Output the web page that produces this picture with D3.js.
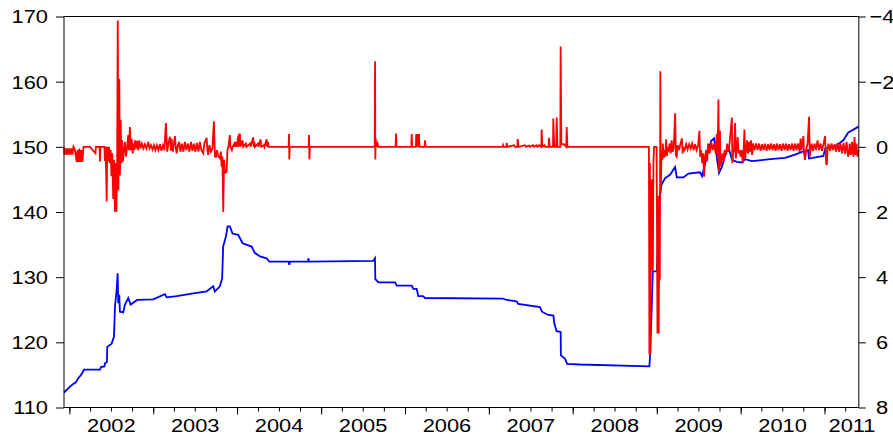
<!DOCTYPE html>
<html>
<head>
<meta charset="utf-8">
<script src="https://cdn.jsdelivr.net/npm/d3@7"></script>
<style>
	body { margin: 0; background: #fff; }
	svg text { font-family: "Liberation Sans", Arial, sans-serif; font-size: 18.5px; fill: #000; }
</style>
</head>
<body>
<svg id="chart"></svg>
<script>
// x labels, left axis (level) and right axis (inverted change) ticks
const years = [2002, 2003, 2004, 2005, 2006, 2007, 2008, 2009, 2010, 2011]
const leftTicks = [110, 120, 130, 140, 150, 160, 170]
const rightTicks = [-4, -2, 0, 2, 4, 6, 8]
const xRange = [2001.936, 2011.409]

// blue series, left axis: [decimal year, level]
const blueSeries = [
	[2001.936, 112.3], [2002.007, 113.2], [2002.046, 113.6], [2002.080, 113.9], [2002.106, 114.5],
	[2002.140, 115.0], [2002.174, 115.8], [2002.365, 115.8], [2002.377, 116.2], [2002.418, 116.3],
	[2002.424, 116.8], [2002.448, 117.0], [2002.452, 119.3], [2002.504, 119.8], [2002.532, 120.9],
	[2002.544, 125.5], [2002.564, 128.1], [2002.576, 130.6], [2002.583, 126.0], [2002.595, 127.3],
	[2002.603, 124.7], [2002.642, 124.6], [2002.663, 125.8], [2002.702, 126.8], [2002.731, 125.8],
	[2002.809, 126.5], [2003.000, 126.6], [2003.139, 127.4], [2003.160, 126.9], [2003.279, 127.1],
	[2003.477, 127.5], [2003.636, 127.8], [2003.715, 128.6], [2003.735, 127.8], [2003.795, 128.6],
	[2003.822, 129.8], [2003.834, 134.7], [2003.866, 136.2], [2003.887, 137.8], [2003.914, 137.8],
	[2003.946, 136.7], [2004.013, 136.5], [2004.066, 135.2], [2004.173, 134.7], [2004.212, 133.7],
	[2004.272, 133.2], [2004.352, 132.9], [2004.383, 132.4], [2004.611, 132.4], [2004.621, 131.9],
	[2004.629, 132.4], [2004.844, 132.4], [2004.847, 132.9], [2004.856, 132.4], [2005.622, 132.5],
	[2005.642, 132.9], [2005.646, 129.7], [2005.682, 129.2], [2005.881, 129.2], [2005.901, 128.7],
	[2006.080, 128.7], [2006.099, 128.2], [2006.139, 128.2], [2006.158, 127.1], [2006.214, 127.1],
	[2006.238, 126.8], [2007.172, 126.7], [2007.212, 126.5], [2007.331, 126.3], [2007.350, 125.9],
	[2007.609, 125.4], [2007.633, 124.7], [2007.708, 124.2], [2007.770, 124.1], [2007.779, 123.0],
	[2007.808, 121.7], [2007.856, 121.6], [2007.859, 118.0], [2007.907, 117.5], [2007.934, 116.7],
	[2008.086, 116.6], [2008.912, 116.3], [2008.920, 118.1], [2008.941, 125.8], [2008.952, 130.9],
	[2009.000, 130.9], [2009.039, 143.1], [2009.060, 144.3], [2009.099, 145.2], [2009.158, 145.7],
	[2009.218, 146.9], [2009.238, 145.3], [2009.317, 145.3], [2009.377, 145.9], [2009.516, 146.1],
	[2009.540, 145.5], [2009.611, 149.3], [2009.647, 150.9], [2009.683, 151.3], [2009.695, 150.3],
	[2009.742, 146.0], [2009.778, 147.0], [2009.826, 149.2], [2009.862, 149.6], [2009.897, 148.0],
	[2009.957, 147.7], [2010.017, 147.6], [2010.052, 148.1], [2010.136, 147.8], [2010.350, 148.1],
	[2010.529, 148.3], [2010.648, 148.8], [2010.747, 149.3], [2010.803, 149.5], [2010.815, 148.2],
	[2010.987, 148.6], [2011.010, 149.8], [2011.145, 150.2], [2011.224, 151.0], [2011.284, 152.2],
	[2011.340, 152.6], [2011.405, 153.1],
]

// red series, right (inverted) axis: [decimal year, change]
const redSeries = [
	[2001.936, 0], [2001.942, 0.24], [2001.954, 0.05], [2001.965, 0.24], [2001.977, 0.05], [2001.989, 0.24],
	[2002.001, 0.05], [2002.013, 0.24], [2002.025, 0.05], [2002.037, 0.24], [2002.049, 0], [2002.067, 0.1],
	[2002.087, 0.46], [2002.097, 0.1], [2002.108, 0.46], [2002.120, 0.05], [2002.132, 0.46], [2002.144, 0.1],
	[2002.156, 0.46], [2002.168, 0], [2002.246, 0], [2002.311, 0.2], [2002.317, 0], [2002.359, 0],
	[2002.365, 0.45], [2002.371, 0], [2002.418, 0], [2002.424, 0.43], [2002.433, 0], [2002.445, 1.68],
	[2002.452, 0], [2002.460, 0.45], [2002.472, 0], [2002.484, 0.5], [2002.492, 0.1], [2002.502, 0.9],
	[2002.511, 0.2], [2002.523, 1.6], [2002.532, 0.4], [2002.544, 1.99], [2002.552, 0.5], [2002.561, 2.0],
	[2002.570, 0.3], [2002.577, -3.88], [2002.585, 1.33], [2002.595, -2.09], [2002.603, 0.88], [2002.612, -0.82],
	[2002.621, 0.5], [2002.629, -0.2], [2002.639, 0.45], [2002.651, 0.1], [2002.663, -0.15], [2002.675, 0.3],
	[2002.687, 0.05], [2002.702, -0.36], [2002.710, 0.1], [2002.722, -0.61], [2002.731, 0.1], [2002.743, -0.25],
	[2002.755, 0.2], [2002.764, -0.1], [2002.774, 0.1], [2002.782, -0.2], [2002.794, 0.05], [2002.806, -0.18],
	[2002.818, 0.1], [2002.833, -0.2], [2002.848, 0.05], [2002.865, -0.1], [2002.883, 0.05], [2002.901, -0.08],
	[2002.919, 0.05], [2002.941, -0.15], [2002.955, 0.05], [2002.973, -0.05], [2002.991, 0.08], [2003.008, -0.05],
	[2003.026, 0.1], [2003.044, -0.05], [2003.062, 0.1], [2003.080, -0.08], [2003.098, 0.12], [2003.116, -0.05],
	[2003.134, 0.1], [2003.151, -0.73], [2003.167, 0.15], [2003.181, -0.1], [2003.199, -0.31], [2003.211, 0.12],
	[2003.219, -0.25], [2003.235, 0.15], [2003.247, -0.1], [2003.259, -0.33], [2003.271, 0.05], [2003.279, 0.2],
	[2003.295, -0.05], [2003.310, -0.15], [2003.324, 0.15], [2003.342, -0.1], [2003.360, 0.15], [2003.378, -0.15],
	[2003.396, 0.1], [2003.414, -0.1], [2003.432, 0.15], [2003.450, -0.15], [2003.467, 0.12], [2003.485, -0.1],
	[2003.503, 0.15], [2003.521, -0.12], [2003.539, 0.15], [2003.557, -0.15], [2003.575, 0.1], [2003.596, 0.2],
	[2003.610, -0.1], [2003.637, -0.28], [2003.646, 0.1], [2003.656, 0.25], [2003.670, -0.05], [2003.688, 0.15],
	[2003.706, 0.05], [2003.724, -0.78], [2003.736, 0.3], [2003.748, 0.31], [2003.759, 0.1], [2003.777, 0.3],
	[2003.795, 0.35], [2003.807, 0.15], [2003.815, 0.61], [2003.825, 0.3], [2003.835, 2.0], [2003.845, 0.4],
	[2003.855, 0.8], [2003.875, 0.77], [2003.885, 0.1], [2003.897, 0], [2003.914, -0.36], [2003.920, 0],
	[2003.938, 0.1], [2003.946, 0], [2003.968, -0.1], [2003.975, 0], [2003.986, -0.15], [2003.995, 0],
	[2004.016, -0.35], [2004.020, 0], [2004.025, -0.41], [2004.030, 0], [2004.034, -0.4], [2004.040, 0],
	[2004.066, -0.2], [2004.072, 0], [2004.105, -0.1], [2004.110, 0], [2004.153, -0.1], [2004.160, 0],
	[2004.192, -0.29], [2004.198, 0], [2004.206, -0.15], [2004.212, 0], [2004.248, -0.1], [2004.255, 0],
	[2004.280, -0.23], [2004.287, 0], [2004.320, -0.05], [2004.326, 0], [2004.352, -0.23], [2004.358, 0],
	[2004.367, -0.15], [2004.375, 0], [2004.613, 0], [2004.618, -0.39], [2004.621, 0.39], [2004.627, 0],
	[2004.851, 0], [2004.856, -0.36], [2004.860, 0.39], [2004.866, 0], [2005.638, 0], [2005.643, -2.63],
	[2005.646, 0.39], [2005.651, -0.25], [2005.658, 0], [2005.673, -0.1], [2005.682, 0], [2005.888, 0],
	[2005.893, -0.41], [2005.899, 0], [2006.075, 0], [2006.080, -0.39], [2006.086, 0], [2006.129, 0],
	[2006.134, -0.39], [2006.143, 0], [2006.152, -0.39], [2006.161, 0], [2006.167, -0.39], [2006.173, 0],
	[2006.234, 0], [2006.239, -0.2], [2006.245, 0], [2007.164, 0], [2007.169, -0.05], [2007.175, 0],
	[2007.208, 0], [2007.213, -0.12], [2007.222, 0], [2007.300, -0.05], [2007.312, 0], [2007.339, 0],
	[2007.344, -0.24], [2007.353, 0], [2007.431, -0.05], [2007.443, 0], [2007.478, -0.04], [2007.490, 0],
	[2007.526, -0.05], [2007.538, 0], [2007.568, -0.05], [2007.580, 0], [2007.598, -0.05], [2007.625, 0],
	[2007.630, -0.53], [2007.637, 0], [2007.663, -0.05], [2007.675, 0], [2007.712, 0], [2007.717, -0.28],
	[2007.725, 0], [2007.765, 0], [2007.768, -0.87], [2007.779, -0.1], [2007.788, 0], [2007.804, 0],
	[2007.809, -0.9], [2007.818, 0], [2007.852, 0], [2007.856, -3.08], [2007.864, -0.1], [2007.878, -0.08],
	[2007.896, -0.08], [2007.923, 0], [2007.928, -0.61], [2007.937, 0], [2008.906, 0], [2008.912, 6.37],
	[2008.918, 0.5], [2008.924, 6.37], [2008.930, 1.0], [2008.937, 3.8], [2008.945, 1.0], [2008.953, 3.8],
	[2008.960, 0.5], [2008.968, 0], [2008.998, 0], [2009.008, 5.73], [2009.015, 1.5], [2009.023, 5.73],
	[2009.030, 2.0], [2009.036, 4.08], [2009.042, -2.32], [2009.048, 1.42], [2009.055, 0.2], [2009.064, 0.41],
	[2009.072, -0.1], [2009.082, 0.35], [2009.091, 0.1], [2009.100, 0.3], [2009.111, -0.23], [2009.121, 0.28],
	[2009.129, 0.05], [2009.141, 0.1], [2009.153, -0.1], [2009.165, 0.2], [2009.177, -0.2], [2009.189, 0.15],
	[2009.201, 0.05], [2009.219, -1.03], [2009.227, 0.25], [2009.237, 0.3], [2009.249, -0.05], [2009.266, 0.1],
	[2009.278, -0.05], [2009.299, -0.26], [2009.308, 0.2], [2009.320, 0.05], [2009.332, 0.1], [2009.350, -0.08],
	[2009.368, 0.08], [2009.386, -0.08], [2009.404, 0.05], [2009.421, -0.1], [2009.439, 0.1], [2009.457, -0.08],
	[2009.475, 0.1], [2009.493, -0.05], [2009.508, -0.49], [2009.517, 0.3], [2009.529, 0.1], [2009.541, 0.5],
	[2009.553, 0.2], [2009.564, 0.92], [2009.576, 0.3], [2009.588, 0.1], [2009.600, 0.45], [2009.612, -0.1],
	[2009.630, 0.2], [2009.648, -0.15], [2009.666, 0.1], [2009.684, -0.1], [2009.702, 0.2], [2009.716, -0.4],
	[2009.725, 0.3], [2009.735, -1.45], [2009.743, 0.77], [2009.753, -0.5], [2009.761, 0.6], [2009.773, 0.4],
	[2009.785, 0.2], [2009.797, 0.45], [2009.809, 0.1], [2009.827, 0.25], [2009.839, -0.1], [2009.851, 0.15],
	[2009.868, -0.1], [2009.895, -0.9], [2009.902, 0.5], [2009.910, 0.2], [2009.922, 0.1], [2009.934, -0.73],
	[2009.942, 0.36], [2009.952, 0.1], [2009.964, -0.3], [2009.976, 0.2], [2009.988, 0.1], [2009.999, 0.3],
	[2010.011, 0.1], [2010.026, 0.5], [2010.035, 0.15], [2010.045, -0.53], [2010.053, 0.36], [2010.065, 0.1],
	[2010.077, -0.2], [2010.089, 0.2], [2010.101, -0.15], [2010.113, 0.15], [2010.125, -0.2], [2010.137, 0.25],
	[2010.148, -0.1], [2010.166, 0.1], [2010.184, -0.1], [2010.202, 0.1], [2010.220, -0.1], [2010.238, 0.12],
	[2010.256, -0.08], [2010.274, 0.1], [2010.291, -0.1], [2010.309, 0.12], [2010.327, -0.08], [2010.345, 0.1],
	[2010.363, -0.1], [2010.381, 0.1], [2010.399, -0.08], [2010.417, 0.12], [2010.434, -0.1], [2010.452, 0.1],
	[2010.470, -0.08], [2010.488, 0.12], [2010.506, -0.1], [2010.524, 0.1], [2010.542, -0.1], [2010.560, 0.12],
	[2010.577, -0.08], [2010.595, 0.1], [2010.613, -0.1], [2010.631, 0.12], [2010.649, -0.1], [2010.667, 0.1],
	[2010.685, -0.1], [2010.703, 0.15], [2010.715, -0.25], [2010.726, 0.1], [2010.748, -0.33], [2010.756, 0.2],
	[2010.768, 0.4], [2010.780, 0.1], [2010.798, -0.1], [2010.816, -0.92], [2010.824, 0.3], [2010.834, 0.1],
	[2010.846, -0.1], [2010.864, 0.12], [2010.881, -0.1], [2010.899, 0.1], [2010.917, -0.2], [2010.935, 0.1],
	[2010.953, -0.1], [2010.971, 0.12], [2010.989, -0.1], [2011.007, -0.33], [2011.019, 0.5], [2011.027, 0.56],
	[2011.036, 0.1], [2011.048, -0.1], [2011.066, 0.12], [2011.084, -0.1], [2011.102, 0.1], [2011.120, -0.08],
	[2011.138, 0.15], [2011.156, -0.12], [2011.173, 0.15], [2011.191, -0.1], [2011.209, 0.2], [2011.227, -0.12],
	[2011.245, 0.22], [2011.263, -0.15], [2011.281, 0.3], [2011.293, 0.2], [2011.299, -0.1], [2011.317, 0.25],
	[2011.328, -0.15], [2011.346, 0.3], [2011.358, -0.3], [2011.370, 0.25], [2011.382, -0.1], [2011.394, 0.3],
	[2011.405, 0.1],
]

const width = 893
const height = 438
const margin = {top: 16.5, right: 34.2, bottom: 30.5, left: 64}
const plotWidth = width - margin.left - margin.right
const plotHeight = height - margin.top - margin.bottom
const stretch = "scale(1.18,1)"

// decimal year -> Date
function toDate(t) {
	const y = Math.floor(t)
	const a = new Date(y, 0, 1), b = new Date(y + 1, 0, 1)
	return new Date(+a + (t - y) * (b - a))
}

const x = d3.scaleTime().domain(xRange.map(toDate)).range([0, plotWidth])
const yLeft = d3.scaleLinear().domain([110, 170]).range([plotHeight, 0])
const yRight = d3.scaleLinear().domain([-4, 8]).range([0, plotHeight])

const svg = d3.select("#chart").attr("width", width).attr("height", height)
svg.append("rect").attr("width", width).attr("height", height).attr("fill", "#fff")
const plot = svg.append("g").attr("transform", "translate(" + margin.left + "," + margin.top + ")")

function styleAxis(g) {
	g.attr("font-size", null).attr("font-family", null)
	g.select(".domain").remove()
	g.selectAll(".tick line").attr("stroke", "#000")
}

// left axis
plot.append("g")
	.call(d3.axisLeft(yLeft).tickValues(leftTicks).tickSize(8).tickFormat(d3.format("d")))
	.call(styleAxis)
	.selectAll("text")
	.attr("x", null).attr("dy", "0.35em")
	.attr("text-anchor", "end")
	.attr("transform", "translate(-16,0) " + stretch)

// right axis
plot.append("g")
	.attr("transform", "translate(" + plotWidth + ",0)")
	.call(d3.axisRight(yRight).tickValues(rightTicks).tickSize(7).tickFormat(d3.format("d")))
	.call(styleAxis)
	.selectAll("text")
	.attr("x", null).attr("dy", "0.35em")
	.attr("text-anchor", "middle")
	.attr("transform", "translate(23.2,0) " + stretch)

// bottom axis: quarter ticks, longer year ticks
const quarters = d3.timeMonth.every(3).range(x.domain()[0], x.domain()[1])
plot.append("g")
	.attr("transform", "translate(0," + plotHeight + ")")
	.call(d3.axisBottom(x).tickValues(quarters).tickSize(4).tickFormat(""))
	.call(styleAxis)
plot.append("g")
	.attr("transform", "translate(0," + plotHeight + ")")
	.call(d3.axisBottom(x).tickValues(years.map(y => toDate(y))).tickSize(7).tickFormat(""))
	.call(styleAxis)

// year labels centred in each year, the last partial year starts at its tick
plot.append("g").selectAll("text")
	.data(years)
	.join("text")
	.attr("text-anchor", d => x(toDate(d + 1)) > plotWidth ? "start" : "middle")
	.attr("transform", d => {
		const x0 = x(toDate(d)), x1 = x(toDate(d + 1))
		const cx = x1 > plotWidth ? x0 + 4 : (x0 + x1) / 2
		return "translate(" + cx + "," + (plotHeight + 24.5) + ") " + stretch
	})
	.text(d => d)

function drawLine(data, scale, color, w) {
	const line = d3.line()
		.x(d => x(toDate(d[0])))
		.y(d => scale(d[1]))
	plot.append("path")
		.datum(data)
		.attr("fill", "none")
		.attr("stroke", color)
		.attr("stroke-width", w)
		.attr("stroke-linejoin", "miter")
		.attr("d", line)
}

drawLine(blueSeries, yLeft, "#0000ff", 1.8)
drawLine(redSeries, yRight, "#ff0000", 1.8)

// frame
plot.append("rect")
	.attr("width", plotWidth).attr("height", plotHeight)
	.attr("fill", "none").attr("stroke", "#000").attr("stroke-width", 1)
</script>
</body>
</html>
